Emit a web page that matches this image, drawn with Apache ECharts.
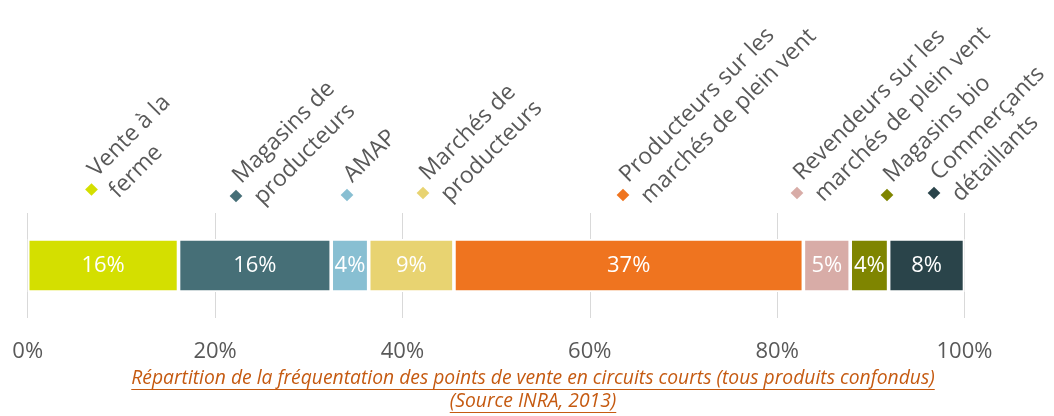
<!DOCTYPE html>
<html>
<head>
<meta charset="utf-8">
<script src="https://cdn.jsdelivr.net/npm/echarts@6/dist/echarts.min.js"></script>
<style>
  html, body { margin: 0; padding: 0; background: #fff; }
  #chart { width: 1054px; height: 416px; }
</style>
</head>
<body>
<div id="chart"></div>
<script>
// points de vente et part de fréquentation (%)
const names = [
  'Vente à la ferme', 'Magasins de producteurs', 'AMAP', 'Marchés de producteurs',
  'Producteurs sur les marchés de plein vent', 'Revendeurs sur les marchés de plein vent',
  'Magasins bio', 'Commerçants détaillants'
];
const legendText = [
  'Vente à la\nferme', 'Magasins de\nproducteurs', 'AMAP', 'Marchés de\nproducteurs',
  'Producteurs sur les\nmarchés de plein vent', 'Revendeurs sur les\nmarchés de plein vent',
  'Magasins bio', 'Commerçants\ndétaillants'
];
const values = [16.1, 16.3, 4.0, 9.1, 37.3, 5.0, 4.1, 8.1];
const xMin = 0, xMax = 100, xStep = 20;
const caption = [
  'Répartition de la fréquentation des points de vente en circuits courts (tous produits confondus)',
  '(Source INRA, 2013)'
];

const colors = ['#d4df00', '#466f77', '#88bfd2', '#e8d371', '#ef741f', '#d8aca7', '#7f8500', '#2a444a'];
// position des repères de légende (inclinés à 45°)
const legendPos = [[91.5, 189.5], [236, 196], [347, 195], [423, 193], [623, 195], [797, 193], [887, 195], [934, 193]];

const labelColor = '#595959';
const capColor = '#c55a11';
const capFont = 'italic 19.3px "Open Sans"';

function textWidth(str, font) {
  const ctx = document.createElement('canvas').getContext('2d');
  ctx.font = font;
  return ctx.measureText(str).width;
}

const chart = echarts.init(document.getElementById('chart'));

const series = names.map((n, i) => ({
  name: n,
  type: 'bar',
  stack: 'total',
  barWidth: 53,
  data: [values[i]],
  itemStyle: { color: colors[i], borderColor: '#fff', borderWidth: 1.8 },
  label: {
    show: true,
    position: 'inside',
    color: '#fff',
    fontFamily: 'Open Sans',
    fontSize: 22,
    formatter: p => Math.round(p.value) + '%'
  }
}));

const graphic = [];
legendText.forEach((t, i) => {
  graphic.push({
    type: 'group',
    x: legendPos[i][0],
    y: legendPos[i][1],
    rotation: Math.PI / 4,
    children: [
      { type: 'rect', shape: { x: -4.5, y: -4.5, width: 9, height: 9 }, style: { fill: colors[i] } },
      {
        type: 'text', x: 12, y: -26,
        style: { text: t, font: '23px "Open Sans"', fill: labelColor, lineHeight: 30, verticalAlign: 'top' }
      }
    ]
  });
});

const capX = 533;
const capY = [378.2, 401.2];
caption.forEach((c, i) => {
  const w = textWidth(c, capFont);
  graphic.push({
    type: 'text', x: capX, y: capY[i],
    style: { text: c, font: capFont, fill: capColor, align: 'center', verticalAlign: 'middle' }
  });
  graphic.push({
    type: 'line',
    shape: { x1: capX - w / 2, y1: capY[i] + 11.3, x2: capX + w / 2, y2: capY[i] + 11.3 },
    style: { stroke: capColor, lineWidth: 1.2 }
  });
});

chart.setOption({
  animation: false,
  grid: { left: 27.7, right: 89.5, top: 213, height: 105, containLabel: false },
  xAxis: {
    type: 'value',
    min: xMin, max: xMax, interval: xStep,
    axisLine: { show: false },
    axisTick: { show: false },
    splitLine: { lineStyle: { color: '#d9d9d9', width: 1 } },
    axisLabel: { formatter: '{value}%', color: labelColor, fontFamily: 'Open Sans', fontSize: 22, margin: 23 }
  },
  yAxis: {
    type: 'category',
    data: [''],
    axisLine: { show: false },
    axisTick: { show: false },
    axisLabel: { show: false }
  },
  series: series,
  graphic: graphic
});
</script>
</body>
</html>
